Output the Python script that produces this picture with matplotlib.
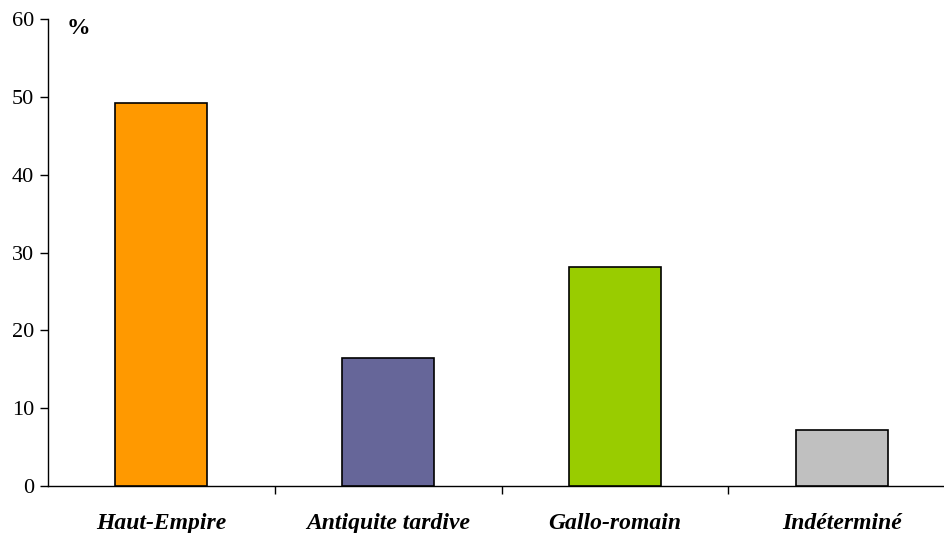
import matplotlib.pyplot as plt
import numpy as np

plt.rcParams['font.family'] = ['Liberation Serif', 'DejaVu Serif']

categories = ["Haut-Empire", "Antiquite tardive", "Gallo-romain", "Indéterminé"]
values = [49.2, 16.4, 28.1, 7.2]
colors = ["#FF9900", "#666699", "#99CC00", "#C0C0C0"]
yticks = [0, 10, 20, 30, 40, 50, 60]

fig = plt.figure(figsize=(9.44, 5.33), dpi=100)
W, H = 944, 533
ax = fig.add_axes([48 / W, 47 / H, 907 / W, 467 / H])

x = np.arange(len(categories))
ax.bar(x, values, width=0.406, color=colors, edgecolor="black", linewidth=1.2, zorder=3)

ax.set_xlim(-0.5, len(categories) - 0.5)
ax.set_ylim(0, 60)
ax.set_yticks(yticks)
ax.tick_params(axis="y", direction="out", length=6, width=1, labelsize=16, pad=4)

ax.set_xticks(x)
ax.set_xticklabels(categories, fontsize=17, fontweight="bold", fontstyle="italic")
ax.tick_params(axis="x", which="major", length=0, pad=19.5)
ax.set_xticks(np.arange(0.5, len(categories) - 0.5, 1), minor=True)
ax.tick_params(axis="x", which="minor", direction="out", length=6, width=1)

for side in ["top", "right"]:
    ax.spines[side].set_visible(False)
ax.spines["left"].set_linewidth(1)
ax.spines["bottom"].set_linewidth(1)

fig.text(67 / W, 1 - 28 / H, "%", fontsize=17, fontweight="bold", va="center", ha="left")

fig.savefig("out.png", dpi=100)
